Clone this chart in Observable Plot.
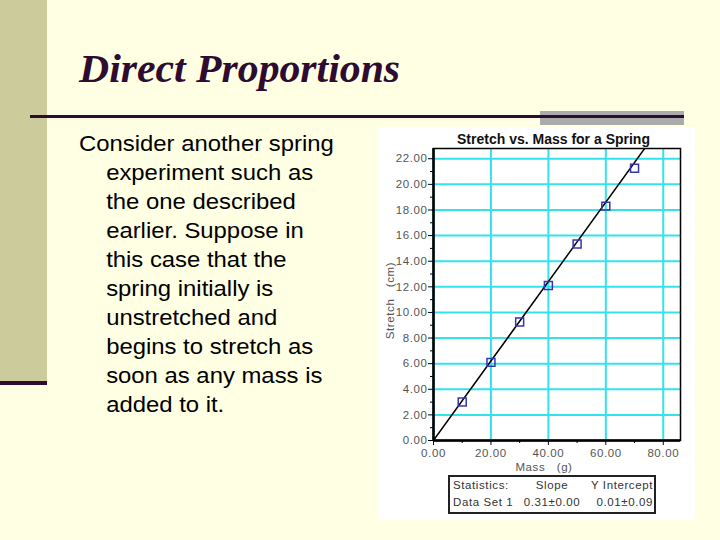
<!DOCTYPE html>
<html>
<head>
<meta charset="utf-8">
<script src="https://cdn.jsdelivr.net/npm/d3@7"></script>
<script src="https://cdn.jsdelivr.net/npm/@observablehq/plot@0.6"></script>
<style>
  html, body { margin: 0; padding: 0; }
  body { width: 720px; height: 540px; background: #FFFFE3; position: relative; overflow: hidden; font-family: "Liberation Sans", Arial, sans-serif; }
  #band { position: absolute; left: 0; top: 0; width: 47px; height: 381px; background: #CBCB9B; }
  #bandline { position: absolute; left: 0; top: 381px; width: 47px; height: 4px; background: #2E0B30; }
  #title { position: absolute; left: 79px; top: 46px; font-family: "Liberation Serif", "Times New Roman", serif; font-weight: bold; font-style: italic; font-size: 39px; color: #2E0B30; white-space: nowrap; transform: scaleX(1.07); transform-origin: left top; }
  #gray { position: absolute; left: 540px; top: 111px; width: 144px; height: 14px; background: #ABABAB; }
  #rule { position: absolute; left: 30px; top: 115px; width: 654px; height: 3px; background: #2E0B30; }
  #body { position: absolute; left: 79px; top: 130px; font-size: 22px; line-height: 28.95px; color: #000; transform: scaleX(1.085); transform-origin: left top; }
  #body div { white-space: nowrap; padding-left: 25px; }
  #body div:first-child { padding-left: 0; }
  #panel { position: absolute; left: 378px; top: 127px; width: 317px; height: 393px; background: #fff; }
  #ctitle { position: absolute; left: 17px; width: 317px; top: 4px; text-align: center; font-weight: bold; font-size: 14px; color: #111; }
  #chart { position: absolute; left: 0; top: 0; }
  #stats { position: absolute; left: 70px; top: 348px; width: 204px; height: 35px; border: 2px solid #222; font-size: 11.5px; letter-spacing: 0.6px; color: #333; }
  #stats .row { position: absolute; left: 0; width: 204px; height: 16px; }
  #stats span { position: absolute; white-space: nowrap; }
</style>
</head>
<body>
<div id="band"></div>
<div id="bandline"></div>
<div id="title">Direct Proportions</div>
<div id="gray"></div>
<div id="rule"></div>
<div id="body"></div>
<div id="panel">
  <div id="chart"></div>
  <div id="ctitle"></div>
  <div id="stats"></div>
</div>
<script>
// ---- data ----
const slideTitle = "Direct Proportions";
const bodyLines = [
  "Consider another spring",
  "experiment such as",
  "the one described",
  "earlier. Suppose in",
  "this case that the",
  "spring initially is",
  "unstretched and",
  "begins to stretch as",
  "soon as any mass is",
  "added to it."
];
const chartTitle = "Stretch vs. Mass for a Spring";
const xLabel = "Mass\u00a0\u00a0\u00a0(g)";
const yLabel = "Stretch\u00a0\u00a0\u00a0(cm)";
const mass = [10, 20, 30, 40, 50, 60, 70];
const stretch = [3.0, 6.1, 9.25, 12.1, 15.35, 18.3, 21.25];
const xTicks = [0, 20, 40, 60, 80];
const yTicks = [0, 2, 4, 6, 8, 10, 12, 14, 16, 18, 20, 22];
const xMinorTicks = [10, 30, 50, 70];
const yMinorTicks = [1, 3, 5, 7, 9, 11, 13, 15, 17, 19, 21];
const fitSlope = 0.31;
const fitIntercept = 0.01;
const fitMass = [0, 76];
const statsHeader = ["Statistics:", "Slope", "Y Intercept"];
const statsRow = ["Data Set 1", "0.31\u00b10.00", "0.01\u00b10.09"];

// ---- slide text ----
document.getElementById("title").textContent = slideTitle;
const bodyEl = document.getElementById("body");
bodyLines.forEach(t => { const d = document.createElement("div"); d.textContent = t; bodyEl.appendChild(d); });
document.getElementById("ctitle").textContent = chartTitle;

// ---- chart ----
const points = mass.map((m, i) => ({mass: m, stretch: stretch[i]}));
const fit = fitMass.map(m => ({mass: m, stretch: fitSlope * m + fitIntercept}));
const fmt = d => d.toFixed(2);
const blank = () => "";

const chart = Plot.plot({
  width: 317,
  height: 393,
  marginLeft: 55,
  marginRight: 15,
  marginTop: 21,
  marginBottom: 80,
  style: {background: "transparent", fontFamily: "Liberation Sans, Arial, sans-serif", fontSize: "11.5px", color: "#555", letterSpacing: "0.6px"},
  x: {domain: [0, 86]},
  y: {domain: [0, 22.8]},
  marks: [
    Plot.gridX(xTicks, {stroke: "#33E3EC", strokeOpacity: 1, strokeWidth: 2}),
    Plot.gridY(yTicks, {stroke: "#33E3EC", strokeOpacity: 1, strokeWidth: 2}),
    Plot.frame({stroke: "#000", strokeWidth: 1.5}),
    Plot.ruleX([0], {stroke: "#000", strokeWidth: 2.5}),
    Plot.ruleY([0], {stroke: "#000", strokeWidth: 2.5}),
    Plot.axisY(yMinorTicks, {tickSize: 3, tickFormat: blank, label: null, stroke: "#000"}),
    Plot.axisY(yTicks, {tickSize: 5, tickPadding: 1, tickFormat: fmt, stroke: "#000", fill: "#555", label: null}),
    Plot.axisX(xMinorTicks, {tickSize: 3, tickFormat: blank, label: null, stroke: "#000"}),
    Plot.axisX(xTicks, {tickSize: 5, tickPadding: 3, tickFormat: fmt, stroke: "#000", fill: "#555", label: null}),
    Plot.text([yLabel], {frameAnchor: "left", textAnchor: "middle", dx: -43, dy: 6, rotate: -90, fill: "#555", fontSize: 11.5}),
    Plot.text([xLabel], {frameAnchor: "bottom", dx: -13, dy: 30, fill: "#555", fontSize: 11.5}),
    Plot.line(fit, {x: "mass", y: "stretch", stroke: "#000", strokeWidth: 1.5, clip: true}),
    Plot.dot(points, {x: "mass", y: "stretch", symbol: "square", r: 4.5, stroke: "#3535B0", strokeWidth: 1.5, fill: "none"})
  ]
});
document.getElementById("chart").appendChild(chart);

// ---- stats box ----
const statsEl = document.getElementById("stats");
function addRow(vals, top) {
  const r = document.createElement("div");
  r.className = "row"; r.style.top = top + "px";
  const pos = [
    {left: "3px"},
    {left: "102px", transform: "translateX(-50%)"},
    {right: "1px"}
  ];
  vals.forEach((v, i) => {
    const s = document.createElement("span");
    s.textContent = v;
    Object.assign(s.style, pos[i]);
    r.appendChild(s);
  });
  statsEl.appendChild(r);
}
addRow(statsHeader, 2);
addRow(statsRow, 19);
</script>
</body>
</html>
